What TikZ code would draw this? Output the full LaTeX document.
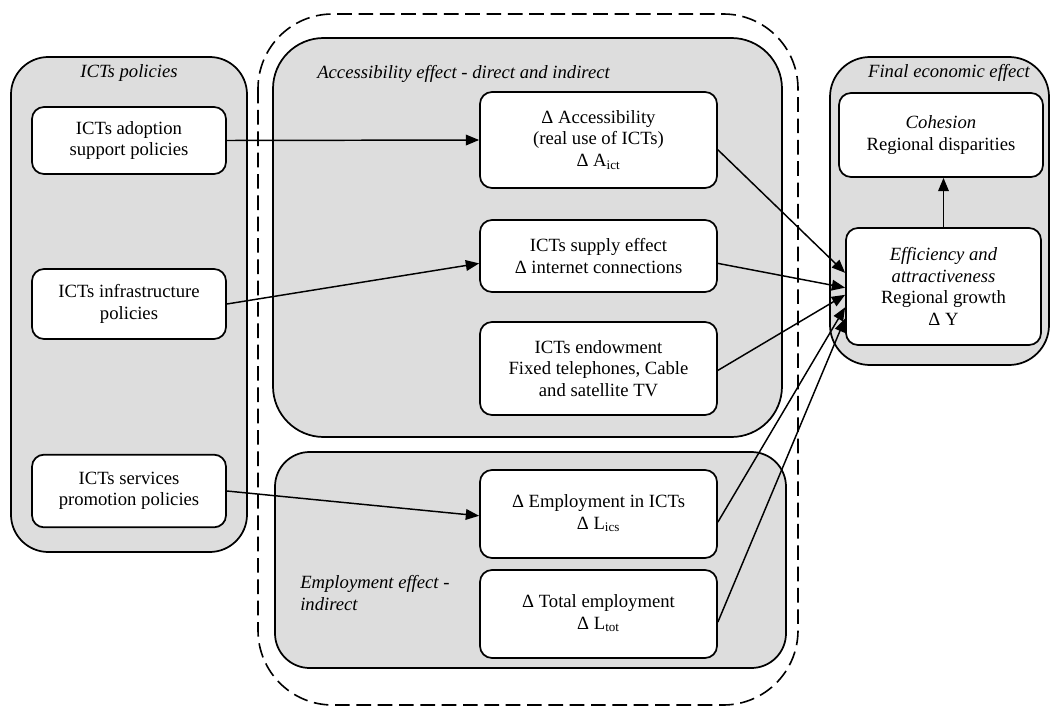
\documentclass[tikz,border=0pt]{standalone}
\usepackage{fontspec}
\setmainfont{Liberation Serif}
\usetikzlibrary{arrows.meta,calc}
\definecolor{panelgray}{RGB}{221,221,221}
\newcommand\raisedtext[1]{\raisebox{4.5pt}{\begin{tabular}{@{}c@{}}#1\end{tabular}}}
\begin{document}
\begin{tikzpicture}[x=0.75pt,y=-0.75pt,
  every node/.style={font=\fontsize{14}{16.1}\selectfont},
  panel/.style={draw, line width=1.3pt, fill=panelgray},
  dashpanel/.style={draw, line width=1.2pt, dash pattern=on 11pt off 5pt, rounded corners=56pt},
  box/.style={draw, line width=1.3pt, fill=white, rounded corners=9pt, align=center, inner sep=0pt},
  ptitle/.style={font=\fontsize{14}{16.1}\selectfont\itshape, inner sep=0pt},
  arr/.style={-{Triangle[length=10pt,width=8pt]}, line width=1.1pt}]
\useasboundingbox (0,0) rectangle (1050,710);

% panels
\draw[dashpanel] (258,14) rectangle (798,705);
\draw[panel, rounded corners=28pt] (11,57) rectangle (247,552);
\draw[panel, rounded corners=38pt] (273,38) rectangle (782,437);
\draw[panel, rounded corners=26pt] (275,452) rectangle (786,668);
\draw[panel, rounded corners=30pt] (830,57) rectangle (1049,365);

% panel titles
\node[ptitle] (tpol) at (129,73) {ICTs policies};
\node[ptitle, anchor=west] (tacc) at (317,74) {Accessibility effect - direct and indirect};
\node[ptitle, anchor=west, align=left] (temp) at (300,593) {Employment effect -\\indirect};
\node[ptitle] (tfin) at (949,73) {Final economic effect};

% left boxes
\node[box, minimum width=145.5pt, minimum height=50.25pt] (adopt) at (129,140.5) {ICTs adoption\\support policies};
\node[box, minimum width=145.5pt, minimum height=52.5pt] (infra) at (129,304) {ICTs infrastructure\\policies};
\node[box, minimum width=145.5pt, minimum height=54.5pt] (serv) at (129,491) {ICTs services\\promotion policies};

% middle boxes
\node[box, minimum width=177.75pt, minimum height=72pt] (aict) at (598.5,140) {Δ Accessibility\\(real use of ICTs)\\Δ A\textsubscript{ict}};
\node[box, minimum width=177.75pt, minimum height=54pt] (supply) at (598.5,256) {ICTs supply effect\\Δ internet connections};
\node[box, minimum width=177.75pt, minimum height=69.75pt] (endow) at (598.5,368.5) {ICTs endowment\\Fixed telephones, Cable\\and satellite TV};
\node[box, minimum width=177.75pt, minimum height=66pt] (emp) at (598.5,514) {\raisedtext{Δ Employment in ICTs\\Δ L\textsubscript{ics}}};
\node[box, minimum width=177.75pt, minimum height=66pt] (tot) at (598.5,614) {\raisedtext{Δ Total employment\\Δ L\textsubscript{tot}}};

% right boxes
\node[box, minimum width=153pt, minimum height=63pt] (coh) at (941,135) {\raisedtext{\textit{Cohesion}\\Regional disparities}};
\node[box, minimum width=146.25pt, minimum height=87.75pt] (eff) at (943.5,286.5) {\textit{Efficiency and}\\\textit{attractiveness}\\Regional growth\\Δ Y};

% arrows from policies
\draw[arr] (adopt.east) -- (aict.west);
\draw[arr] (infra.east) -- ($(supply.north west)!0.6!(supply.south west)$);
\draw[arr] (serv.east) -- ($(emp.north west)!0.52!(emp.south west)$);

% arrows into efficiency
\draw[arr] ($(aict.north east)!0.6!(aict.south east)$) -- ($(eff.north west)!0.385!(eff.south west)$);
\draw[arr] ($(supply.north east)!0.6!(supply.south east)$) -- ($(eff.north west)!0.51!(eff.south west)$);
\draw[arr] ($(endow.north east)!0.52!(endow.south east)$) -- ($(eff.north west)!0.57!(eff.south west)$);
\draw[arr] ($(emp.north east)!0.59!(emp.south east)$) -- ($(eff.north west)!0.675!(eff.south west)$);
\draw[arr] ($(tot.north east)!0.59!(tot.south east)$) -- ($(eff.north west)!0.77!(eff.south west)$);

% efficiency to cohesion
\draw[arr] (eff.north) -- (eff.north |- coh.south);
\end{tikzpicture}
\end{document}
